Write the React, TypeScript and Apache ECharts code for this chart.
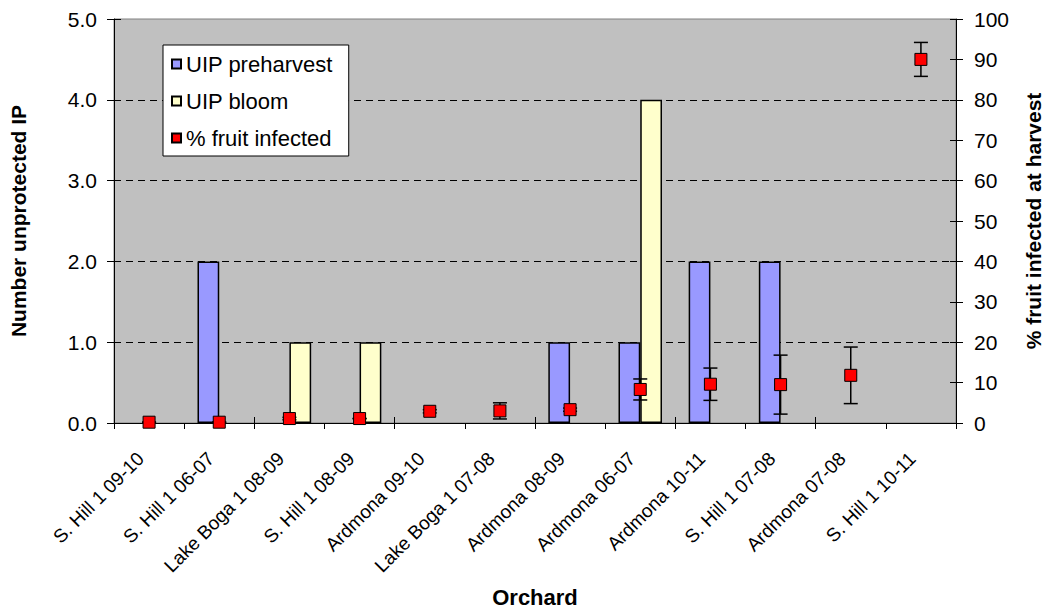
import React, { useEffect, useRef } from "react";
import * as echarts from "echarts";

const categories = [
  "S. Hill 1 09-10",
  "S. Hill 1 06-07",
  "Lake Boga 1 08-09",
  "S. Hill 1 08-09",
  "Ardmona 09-10",
  "Lake Boga 1 07-08",
  "Ardmona 08-09",
  "Ardmona 06-07",
  "Ardmona 10-11",
  "S. Hill 1 07-08",
  "Ardmona 07-08",
  "S. Hill 1 10-11",
];
const uipPreharvest = [0, 2, 0, 0, 0, 0, 1, 1, 2, 2, 0, 0];
const uipBloom = [0, 0, 1, 1, 0, 0, 0, 4, 0, 0, 0, 0];
const fruitInfected = [0.2, 0.2, 1.1, 1.1, 2.9, 3.0, 3.3, 8.3, 9.6, 9.5, 11.8, 90];
const fruitError = [0, 0, 0.3, 0, 0.4, 2.0, 0.4, 2.6, 4.0, 7.3, 7.0, 4.2];
const leftTicks = { min: 0, max: 5, interval: 1 };
const rightTicks = { min: 0, max: 100, interval: 10 };

const FONT = "Liberation Sans, Arial, sans-serif";

export default function App() {
  const ref = useRef<HTMLDivElement>(null);
  useEffect(() => {
    if (!ref.current) return;
    const chart = echarts.init(ref.current, null, { renderer: "svg" });
    const errData = fruitInfected.map((v, i) => [i, v - fruitError[i], v + fruitError[i]]);
    const hideZero = (arr: number[]) => arr.map((v) => (v === 0 ? "-" : v));
    chart.setOption({
      animation: false,
      backgroundColor: "#ffffff",
      textStyle: { fontFamily: FONT, color: "#000" },
      grid: {
        left: 114,
        right: 94,
        top: 19,
        bottom: 189,
        outerBoundsMode: "none",
        containLabel: false,
        show: true,
        backgroundColor: "#C0C0C0",
        borderColor: "#808080",
        borderWidth: 1,
      },
      legend: {
        orient: "vertical",
        left: 163,
        top: 45,
        backgroundColor: "#ffffff",
        borderColor: "#000",
        borderWidth: 1,
        borderRadius: 0,
        padding: [8, 16, 7, 8],
        itemGap: 15,
        itemWidth: 9,
        itemHeight: 9,
        icon: "rect",
        textStyle: { fontSize: 22, fontFamily: FONT, color: "#000" },
        data: ["UIP preharvest", "UIP bloom", "% fruit infected"],
      },
      xAxis: [
        {
          type: "category",
          data: categories,
          position: "bottom",
          axisLine: { show: true, lineStyle: { color: "#000", width: 1 } },
          axisTick: { show: true, length: 6, lineStyle: { color: "#000" } },
          axisLabel: {
            rotate: 45,
            interval: 0,
            fontSize: 19,
            margin: 24,
            padding: [0, 12, 0, 0],
            color: "#000",
            fontFamily: FONT,
          },
          name: "Orchard",
          nameLocation: "middle",
          nameGap: 163,
          nameTextStyle: { fontSize: 22, fontWeight: "bold", color: "#000", fontFamily: FONT },
          splitLine: { show: false },
        },
        {
          type: "category",
          data: categories,
          position: "bottom",
          axisLine: { show: false },
          axisTick: { show: true, inside: true, length: 6, lineStyle: { color: "#000" } },
          axisLabel: { show: false },
          splitLine: { show: false },
        },
      ],
      yAxis: [
        {
          type: "value",
          position: "left",
          ...leftTicks,
          axisLine: { show: true, lineStyle: { color: "#000" } },
          axisTick: { show: true, length: 7, lineStyle: { color: "#000" } },
          axisLabel: {
            fontSize: 21,
            margin: 17,
            color: "#000",
            fontFamily: FONT,
            formatter: (v: number) => v.toFixed(1),
          },
          splitLine: {
            show: true,
            showMinLine: false,
            showMaxLine: false,
            lineStyle: { color: "#000", type: [7, 5], width: 1 },
          },
          name: "Number unprotected IP",
          nameLocation: "middle",
          nameGap: 85,
          nameTextStyle: { fontSize: 21, fontWeight: "bold", color: "#000", fontFamily: FONT },
        },
        {
          type: "value",
          position: "right",
          ...rightTicks,
          axisLine: { show: true, lineStyle: { color: "#000" } },
          axisTick: { show: true, length: 7, lineStyle: { color: "#000" } },
          axisLabel: { fontSize: 21, margin: 18, color: "#000", fontFamily: FONT },
          splitLine: { show: false },
          name: "% fruit infected at harvest",
          nameLocation: "middle",
          nameGap: 67,
          nameTextStyle: { fontSize: 21, fontWeight: "bold", color: "#000", fontFamily: FONT },
        },
        {
          type: "value",
          position: "left",
          ...leftTicks,
          axisLine: { show: false },
          axisTick: { show: true, inside: true, length: 7, lineStyle: { color: "#000" } },
          axisLabel: { show: false },
          splitLine: { show: false },
        },
        {
          type: "value",
          position: "right",
          ...rightTicks,
          axisLine: { show: false },
          axisTick: { show: true, inside: true, length: 6, lineStyle: { color: "#000" } },
          axisLabel: { show: false },
          splitLine: { show: false },
        },
      ],
      series: [
        {
          name: "UIP preharvest",
          type: "bar",
          data: hideZero(uipPreharvest),
          barGap: "0%",
          barCategoryGap: "38%",
          itemStyle: { color: "#9999FF", borderColor: "#000", borderWidth: 1.5 },
        },
        {
          name: "UIP bloom",
          type: "bar",
          data: hideZero(uipBloom),
          barGap: "0%",
          barCategoryGap: "38%",
          itemStyle: { color: "#FFFFCC", borderColor: "#000", borderWidth: 1.5 },
        },
        {
          name: "error",
          type: "custom",
          yAxisIndex: 1,
          z: 3,
          data: errData,
          renderItem: (params: any, api: any) => {
            const x = api.value(0);
            const lo = api.coord([x, api.value(1)]);
            const hi = api.coord([x, api.value(2)]);
            const cx = lo[0];
            const hw = 7;
            const style = { stroke: "#000", lineWidth: 1.5 };
            return {
              type: "group",
              children: [
                { type: "line", shape: { x1: cx, y1: lo[1], x2: cx, y2: hi[1] }, style },
                { type: "line", shape: { x1: cx - hw, y1: lo[1], x2: cx + hw, y2: lo[1] }, style },
                { type: "line", shape: { x1: cx - hw, y1: hi[1], x2: cx + hw, y2: hi[1] }, style },
              ],
            };
          },
        },
        {
          name: "% fruit infected",
          type: "scatter",
          yAxisIndex: 1,
          z: 4,
          symbol: "rect",
          symbolSize: 12,
          data: fruitInfected,
          itemStyle: { color: "#FF0000", borderColor: "#000", borderWidth: 1, opacity: 1 },
        },
      ],
    });
    return () => chart.dispose();
  }, []);
  return (
    <div
      ref={ref}
      style={{ position: "fixed", left: 0, top: 0, width: 1050, height: 612 }}
    />
  );
}
